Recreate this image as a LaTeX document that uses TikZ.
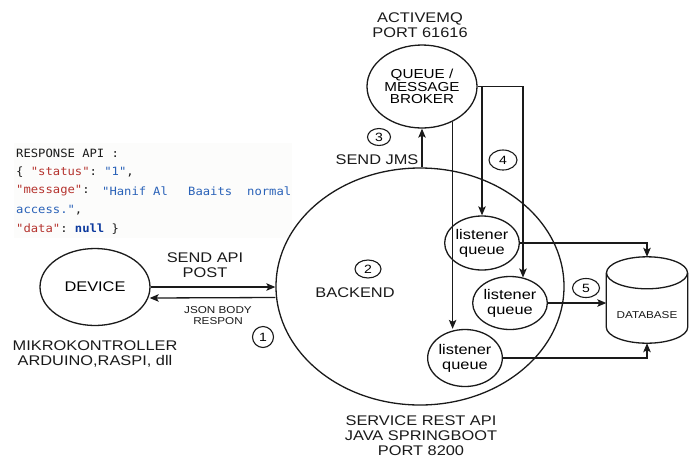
\documentclass[tikz,border=0pt]{standalone}
\usepackage{fontspec}
\setmainfont[FakeStretch=1.17]{Liberation Sans}
\setmonofont[FakeStretch=1.07]{DejaVu Sans Mono}
\usetikzlibrary{shapes.geometric,arrows.meta,calc}
\definecolor{keyred}{HTML}{B5332E}
\definecolor{strblue}{HTML}{2A62B8}
\definecolor{nullblue}{HTML}{0D3A9E}
\definecolor{codebg}{HTML}{FCFCFB}
\definecolor{ink}{HTML}{1A1A1A}
\begin{document}
\begin{tikzpicture}[x=1pt,y=-1pt,
  ell/.style={draw=ink, ellipse, line width=1.3pt, inner sep=0pt, align=center,
    font=\fontsize{14}{15}\selectfont},
  num/.style={draw=ink, ellipse, line width=1.1pt, inner sep=0pt,
    font=\fontsize{12}{12}\selectfont},
  lbl/.style={align=center, inner sep=0pt, text=ink, font=\fontsize{14}{15}\selectfont},
  small/.style={align=center, inner sep=0pt, text=ink, font=\fontsize{10}{11.5}\selectfont},
  arr/.style={draw=ink, line width=1.3pt, -{Stealth[length=9pt,width=7.5pt,inset=2pt]}},
  plain/.style={draw=ink, line width=1.3pt},
  code/.style={anchor=west, inner sep=0pt, text=ink, font=\ttfamily\fontsize{11.4}{12}\selectfont}
]
\useasboundingbox (0,0) rectangle (694,459);
\fill[white] (0,0) rectangle (694,459);

% code block
\fill[codebg] (14,143) rectangle (292,238);
\node[code] (c1) at (16,153) {RESPONSE API :};
\node[code] (c2) at (16,172) {\{ \textcolor{keyred}{"status"}: \textcolor{strblue}{"1"},};
\node[code] (c3a) at (16,191) {\textcolor{keyred}{"message"}:};
\node[code, text=strblue] (c3b) at (102,191) {"Hanif};
\node[code, text=strblue] (c3c) at (153,191) {Al};
\node[code, text=strblue] (c3d) at (188,191) {Baaits};
\node[code, text=strblue] (c3e) at (247,191) {normal};
\node[code] (c4) at (16,210) {\textcolor{strblue}{access."},};
\node[code] (c5) at (16,229) {\textcolor{keyred}{"data"}: \textcolor{nullblue}{\bfseries null} \}};

% main shapes
\node[ell, minimum width=110, minimum height=77] (device) at (95,287) {DEVICE};
\node[lbl] (mikro) at (95,353.5) {MIKROKONTROLLER\\ARDUINO,RASPI, dll};

\node[ell, minimum width=288, minimum height=237] (backend) at (420,286.5) {};
\node[num, minimum width=26, minimum height=18] (n2) at (368,269) {2};
\node[lbl] (backendlbl) at (355,293) {BACKEND};
\node[lbl] (service) at (421,436) {SERVICE REST API\\JAVA SPRINGBOOT\\PORT 8200};

\node[ell, minimum width=110, minimum height=83, font=\fontsize{13}{12.5}\selectfont] (broker) at (422,86.5) {QUEUE /\\MESSAGE\\BROKER};
\node[lbl] (amq) at (420,25) {ACTIVEMQ\\PORT 61616};

\node[ell, minimum width=70, minimum height=54] (l1) at (482,243) {listener\\queue};
\node[ell, minimum width=68, minimum height=53] (l2) at (510,303) {listener\\queue};
\node[ell, minimum width=69, minimum height=57] (l3) at (465,358) {listener\\queue};

% database
\node[minimum width=81, minimum height=86, inner sep=0pt] (db) at (647,300) {};
\draw[plain] ($(db.north)+(0,16)$) ellipse [x radius=40.5, y radius=16];
\draw[plain] ($(db.north west)+(0,16)$) -- ($(db.south west)+(0,-16)$)
  .. controls +(0,8.84) and +(-22.37,0) .. (db.south)
  .. controls +(22.37,0) and +(0,8.84) .. ($(db.south east)+(0,-16)$)
  -- ($(db.north east)+(0,16)$);
\node[small] (dblbl) at (647,315) {DATABASE};

% labels and numbers
\node[lbl] (sendapi) at (205,265.5) {SEND API\\POST};
\node[small] (json) at (218,315.5) {JSON BODY\\RESPON};
\node[num, minimum width=21, minimum height=21] (n1) at (263,337) {1};
\node[num, minimum width=23, minimum height=17] (n3) at (379,137) {3};
\node[lbl] (sendjms) at (377,160) {SEND JMS};
\node[num, minimum width=28, minimum height=20] (n4) at (503,160) {4};
\node[num, minimum width=27, minimum height=19] (n5) at (586,288) {5};

% connectors
\draw[arr] (device.east) -- (device.east -| backend.west);
\draw[arr] ($(backend.west)+(0,11)$) -- ($(device.east)+(-1,11)$);
\draw[arr] (broker.south |- backend.north) -- (broker.south);
\draw[arr] (broker.-49) -- (broker.-49 |- l3.north);
\draw[arr] (broker.east) -| (l1.north);
\draw[arr] (broker.east) -| (l2.63);
\draw[arr] (l1.east) -| (db.north);
\draw[arr] (l2.east) -- (l2.east -| db.west);
\draw[arr] (l3.east) -| (db.south);
\end{tikzpicture}
\end{document}
